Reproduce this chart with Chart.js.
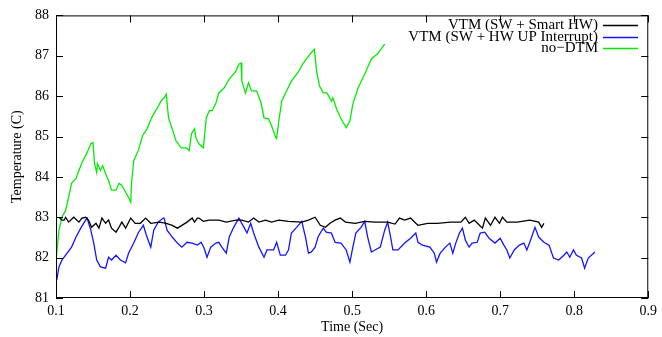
<!DOCTYPE html>
<html>
<head>
<meta charset="utf-8">
<script src="https://cdn.jsdelivr.net/npm/chart.js@4.4.0/dist/chart.umd.min.js"></script>
<style>
  body { margin: 0; background: #fff; }
  #wrap { width: 662px; height: 337px; }
</style>
</head>
<body>
<div id="wrap"><canvas id="temp-chart" width="662" height="337"></canvas></div>
<script>
// series (time in sec, temperature in C)
var smartTime = [0.104,0.108,0.111,0.113,0.117,0.124,0.131,0.135,0.140,0.144,0.148,0.154,0.158,0.162,0.167,0.171,0.175,0.181,0.185,0.189,0.194,0.201,0.207,0.214,0.221,0.228,0.240,0.249,0.257,0.264,0.270,0.277,0.284,0.287,0.291,0.293,0.299,0.307,0.320,0.330,0.343,0.351,0.360,0.367,0.374,0.383,0.391,0.401,0.414,0.432,0.441,0.450,0.457,0.464,0.470,0.477,0.484,0.491,0.504,0.517,0.531,0.548,0.558,0.564,0.571,0.579,0.586,0.589,0.602,0.615,0.633,0.647,0.653,0.658,0.665,0.672,0.676,0.680,0.687,0.693,0.699,0.703,0.709,0.723,0.740,0.752,0.756,0.759];
var smartTemp = [83.00,82.93,82.93,83.00,82.88,83.00,82.88,82.98,83.00,82.93,82.75,82.85,82.73,82.98,82.85,82.93,82.73,82.63,82.75,82.88,82.73,82.98,82.85,82.85,82.98,82.85,82.88,82.85,82.80,82.73,82.80,82.88,82.98,82.88,82.98,82.98,82.90,82.93,82.93,82.88,82.93,82.93,82.88,82.98,82.88,82.93,82.88,82.93,82.90,82.88,82.93,83.00,82.80,82.75,82.85,82.93,82.98,82.88,82.85,82.90,82.88,82.88,82.83,82.98,82.93,82.98,82.85,82.80,82.85,82.85,82.88,82.88,83.00,82.85,82.93,82.80,82.73,82.98,82.80,83.00,82.85,83.00,82.88,82.88,82.93,82.88,82.75,82.85];

var upTime = [0.101,0.104,0.108,0.115,0.121,0.127,0.134,0.140,0.142,0.147,0.151,0.155,0.160,0.167,0.171,0.175,0.181,0.187,0.194,0.198,0.205,0.211,0.218,0.222,0.228,0.232,0.238,0.245,0.246,0.250,0.257,0.264,0.270,0.277,0.284,0.291,0.296,0.300,0.304,0.309,0.316,0.320,0.324,0.330,0.334,0.340,0.347,0.354,0.358,0.363,0.367,0.374,0.381,0.385,0.394,0.398,0.403,0.410,0.414,0.418,0.425,0.432,0.437,0.441,0.445,0.450,0.454,0.457,0.461,0.465,0.472,0.477,0.485,0.492,0.497,0.501,0.505,0.512,0.517,0.521,0.526,0.531,0.538,0.544,0.548,0.552,0.555,0.562,0.571,0.579,0.586,0.589,0.595,0.605,0.611,0.614,0.619,0.626,0.632,0.636,0.640,0.645,0.649,0.653,0.658,0.662,0.669,0.673,0.679,0.685,0.693,0.700,0.705,0.709,0.713,0.719,0.726,0.732,0.736,0.740,0.747,0.752,0.759,0.766,0.772,0.779,0.786,0.790,0.794,0.799,0.803,0.810,0.814,0.819,0.828];
var upTemp = [81.45,81.77,81.94,82.11,82.26,82.51,82.75,82.93,82.98,82.68,82.36,81.94,81.77,81.74,82.01,81.94,82.06,81.94,81.87,82.11,82.36,82.61,82.80,82.56,82.26,82.68,82.88,82.98,82.98,82.68,82.51,82.36,82.26,82.38,82.36,82.31,82.38,82.24,82.01,82.26,82.36,82.38,82.26,82.11,82.51,82.75,82.98,82.75,82.61,82.85,82.61,82.26,82.01,82.19,82.19,82.38,82.06,82.06,82.19,82.61,82.75,82.90,82.51,82.11,82.14,82.26,82.51,82.61,82.73,82.63,82.61,82.38,82.36,82.19,81.89,82.26,82.61,82.75,82.90,82.51,82.14,82.19,82.26,82.68,82.88,82.51,82.19,82.19,82.36,82.48,82.61,82.38,82.31,82.26,82.11,81.89,82.11,82.26,82.36,82.11,82.36,82.61,82.73,82.43,82.26,82.36,82.38,82.61,82.63,82.48,82.36,82.48,82.31,82.19,81.99,82.19,82.31,82.36,82.19,82.38,82.75,82.51,82.38,82.31,81.99,81.94,82.06,82.14,82.01,82.19,82.06,81.99,81.74,81.99,82.14];

var noDtmTime = [0.100,0.101,0.104,0.108,0.113,0.117,0.121,0.127,0.131,0.135,0.142,0.147,0.150,0.152,0.155,0.156,0.160,0.163,0.167,0.171,0.175,0.181,0.185,0.189,0.194,0.198,0.201,0.202,0.205,0.211,0.217,0.223,0.229,0.233,0.237,0.242,0.246,0.249,0.252,0.257,0.262,0.269,0.276,0.280,0.283,0.287,0.289,0.293,0.299,0.303,0.307,0.311,0.316,0.320,0.327,0.334,0.343,0.347,0.350,0.351,0.356,0.360,0.364,0.371,0.377,0.381,0.387,0.391,0.397,0.398,0.401,0.405,0.410,0.418,0.428,0.434,0.444,0.449,0.452,0.456,0.461,0.466,0.472,0.474,0.479,0.485,0.492,0.497,0.501,0.508,0.517,0.526,0.535,0.544];
var noDtmTemp = [82.06,82.11,82.68,83.00,83.17,83.49,83.84,83.96,84.16,84.35,84.60,84.82,84.85,84.33,84.11,84.33,84.16,84.28,84.08,83.91,83.67,83.67,83.84,83.79,83.62,83.49,83.37,83.84,84.40,84.65,85.02,85.19,85.46,85.59,85.71,85.88,85.96,86.05,85.46,85.19,84.90,84.72,84.72,84.65,85.07,85.19,84.97,84.82,84.72,85.46,85.64,85.64,85.83,86.08,86.20,86.42,86.62,86.79,86.82,86.37,86.08,86.33,86.13,86.13,85.83,85.46,85.44,85.27,84.97,84.95,85.39,85.88,86.08,86.37,86.62,86.82,87.06,87.16,86.62,86.25,86.08,86.08,85.88,85.96,85.68,85.44,85.22,85.39,85.81,86.20,86.55,86.92,87.06,87.29];

var seriesNames = ['VTM (SW + Smart HW)', 'VTM (SW + HW UP Interrupt)', 'no\u2212DTM'];
var seriesColors = ['#000000', '#1414ff', '#00ee00'];

var xTicks = [0.1, 0.2, 0.3, 0.4, 0.5, 0.6, 0.7, 0.8, 0.9];
var yTicks = [81, 82, 83, 84, 85, 86, 87, 88];

function toPoints(xs, ys) {
  var pts = [];
  for (var k = 0; k < xs.length; k++) pts.push({x: xs[k], y: ys[k]});
  return pts;
}

var serif = "'Liberation Serif', 'DejaVu Serif', serif";

// gnuplot style frame with inward ticks on all four sides + legend top right
var framePlugin = {
  id: 'frame',
  afterDatasetsDraw: function(chart) {
    var ctx = chart.ctx, a = chart.chartArea;
    var xs = chart.scales.x, ys = chart.scales.y;
    ctx.save();
    ctx.strokeStyle = '#000';
    ctx.lineWidth = 1;
    ctx.strokeRect(a.left + 0.5, a.top + 0.5, a.right - a.left - 1, a.bottom - a.top - 1);
    ctx.beginPath();
    xTicks.forEach(function(v) {
      var px = Math.round(xs.getPixelForValue(v)) + 0.5;
      ctx.moveTo(px, a.bottom); ctx.lineTo(px, a.bottom - 7);
      ctx.moveTo(px, a.top); ctx.lineTo(px, a.top + 7);
    });
    yTicks.forEach(function(v) {
      var py = Math.round(ys.getPixelForValue(v)) + 0.5;
      ctx.moveTo(a.left, py); ctx.lineTo(a.left + 7, py);
      ctx.moveTo(a.right, py); ctx.lineTo(a.right - 7, py);
    });
    ctx.stroke();

    ctx.font = '15px ' + serif;
    ctx.textAlign = 'right';
    ctx.textBaseline = 'middle';
    chart.data.datasets.forEach(function(ds, i) {
      var y = Math.round(25 + i * 11.5);
      ctx.fillStyle = '#000';
      ctx.fillText(ds.label, 598, y);
      ctx.strokeStyle = ds.borderColor;
      ctx.lineWidth = 1.5;
      ctx.beginPath();
      ctx.moveTo(603, y + 0.5);
      ctx.lineTo(638, y + 0.5);
      ctx.stroke();
    });
    ctx.restore();
  }
};

var tempCfg = {
  type: 'line',
  data: {
    datasets: [
      {label: seriesNames[0], data: toPoints(smartTime, smartTemp), borderColor: seriesColors[0]},
      {label: seriesNames[1], data: toPoints(upTime, upTemp), borderColor: seriesColors[1]},
      {label: seriesNames[2], data: toPoints(noDtmTime, noDtmTemp), borderColor: seriesColors[2]}
    ]
  },
  options: {
    responsive: false,
    animation: false,
    layout: {padding: {top: 14, right: 10, left: 0, bottom: 0}},
    elements: {
      point: {radius: 0},
      line: {borderWidth: 1.3, tension: 0}
    },
    plugins: {
      legend: {display: false},
      tooltip: {enabled: false}
    },
    scales: {
      x: {
        type: 'linear',
        min: 0.1, max: 0.9,
        afterBuildTicks: function(s) { s.ticks = xTicks.map(function(v) { return {value: v}; }); },
        afterFit: function(s) { s.height = 39; },
        grid: {display: false, drawTicks: false},
        border: {display: false},
        ticks: {
          color: '#000', padding: 5,
          font: {family: serif, size: 14},
          callback: function(v) { return v.toFixed(1); }
        },
        title: {display: true, text: 'Time (Sec)', color: '#000', font: {family: serif, size: 14}, padding: {top: 0, bottom: 1}}
      },
      y: {
        min: 81, max: 88,
        afterBuildTicks: function(s) { s.ticks = yTicks.map(function(v) { return {value: v}; }); },
        afterFit: function(s) { s.width = 56; },
        grid: {display: false, drawTicks: false},
        border: {display: false},
        ticks: {color: '#000', padding: 7, font: {family: serif, size: 14}},
        title: {display: true, text: 'Temperature (C)', color: '#000', font: {family: serif, size: 14}, padding: {top: 9, bottom: 0}}
      }
    }
  },
  plugins: [framePlugin]
};

var tempGraph = document.getElementById('temp-chart').getContext('2d');
var tempChart = new Chart(tempGraph, tempCfg);
</script>
</body>
</html>
